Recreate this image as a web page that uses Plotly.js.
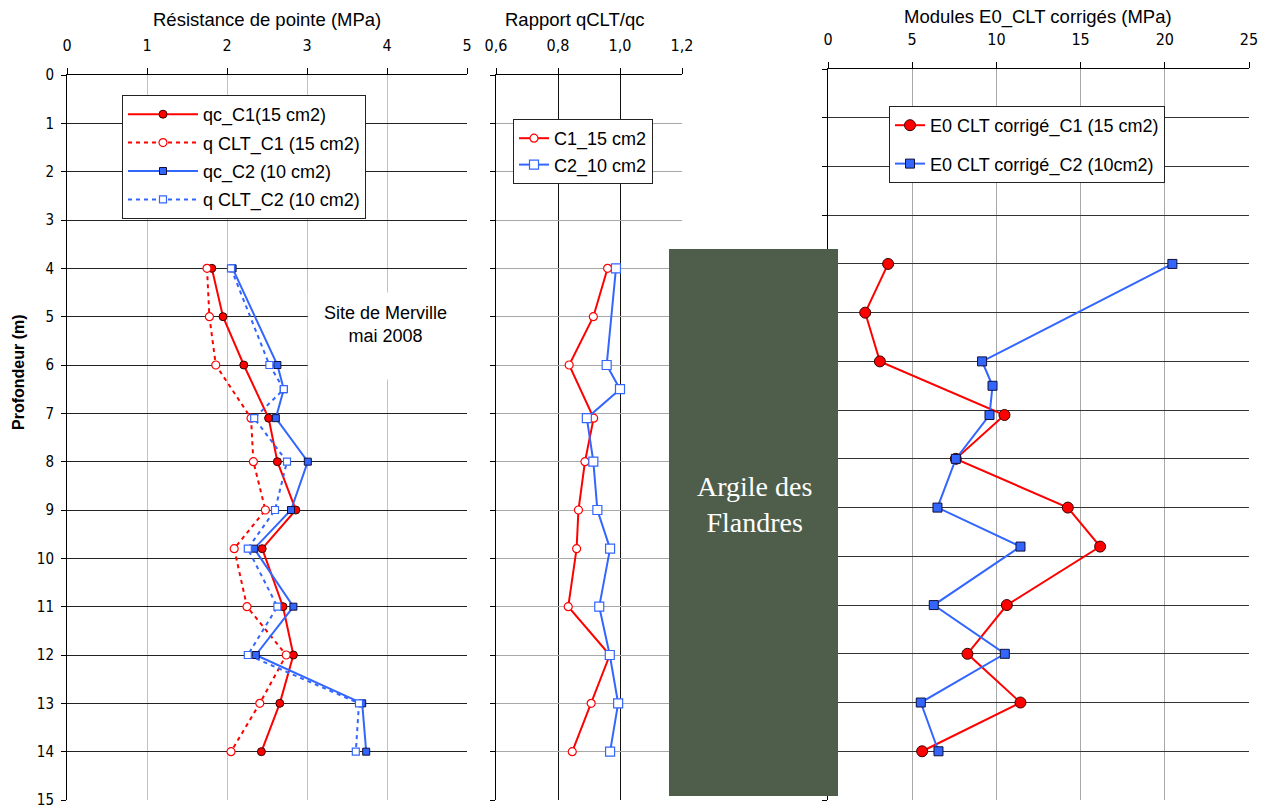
<!DOCTYPE html>
<html>
<head>
<meta charset="utf-8">
<script src="https://cdn.plot.ly/plotly-3.0.1.min.js"></script>
<style>
  html, body { margin: 0; padding: 0; background: #fff; }
  #chart { width: 1272px; height: 809px; }
</style>
</head>
<body>
<div id="chart"></div>
<script>
// ---------------- DATA ----------------
const depthC1 = [4, 5, 6, 7.1, 8, 9, 9.8, 11, 12, 13, 14];
const depthC2 = [4, 6, 6.5, 7.1, 8, 9, 9.8, 11, 12, 13, 14];

// Résistance de pointe (MPa)
const qcC1    = [1.81, 1.95, 2.21, 2.52, 2.63, 2.86, 2.44, 2.70, 2.83, 2.66, 2.43];
const qcltC1  = [1.75, 1.78, 1.86, 2.30, 2.33, 2.48, 2.09, 2.25, 2.74, 2.41, 2.05];
const qcC2    = [2.07, 2.63, 2.71, 2.61, 3.01, 2.80, 2.34, 2.83, 2.36, 3.69, 3.74];
const qcltC2  = [2.05, 2.53, 2.71, 2.34, 2.75, 2.60, 2.26, 2.63, 2.26, 3.65, 3.61];

// Rapport qCLT/qc
const ratioC1 = [0.960, 0.914, 0.836, 0.915, 0.887, 0.866, 0.860, 0.833, 0.967, 0.907, 0.846];
const ratioC2 = [0.987, 0.957, 1.000, 0.893, 0.914, 0.927, 0.968, 0.933, 0.967, 0.994, 0.968];

// Modules E0_CLT corrigés (MPa)
const e0C1 = [3.57, 2.21, 3.08, 10.48, 7.59, 14.24, 16.16, 10.62, 8.28, 11.43, 5.59];
const e0C2 = [20.45, 9.15, 9.77, 9.59, 7.59, 6.50, 11.43, 6.28, 10.50, 5.51, 6.56];

// Labels
const names1 = ["qc_C1(15 cm2)", "q CLT_C1 (15 cm2)", "qc_C2 (10 cm2)", "q CLT_C2 (10 cm2)"];
const names2 = ["C1_15 cm2", "C2_10 cm2"];
const names3 = ["E0 CLT corrigé_C1 (15 cm2)", "E0 CLT corrigé_C2 (10cm2)"];
const titles = ["Résistance de pointe (MPa)", "Rapport qCLT/qc", "Modules E0_CLT corrigés (MPa)"];
const yTitle = "Profondeur (m)";
const siteText = "Site de Merville<br>mai 2008";
const clayText = "Argile des<br>Flandres";

// ---------------- STYLE ----------------
const W = 1272, H = 809;
const px = v => v / W;
const py = v => 1 - v / H;
const RED = "#ff0000", BLUE = "#3366ff";
const FONT = "Liberation Sans, Arial, sans-serif";
const TICKFONT = { family: "Liberation Sans Narrow, DejaVu Sans Condensed, Liberation Sans, Arial, sans-serif", size: 16, color: "#000" };
const YTICKFONT = Object.assign({}, TICKFONT, { size: 15 });

const traces = [
  { x: qcC1, y: depthC1, name: names1[0], xaxis: "x", yaxis: "y", mode: "lines+markers",
    legend: "legend", legendgroup: "a1",
    line: { color: RED, width: 2 },
    marker: { symbol: "circle", size: 8, color: RED, line: { color: "#3a0000", width: 1 } } },
  { x: qcltC1, y: depthC1, name: names1[1], xaxis: "x", yaxis: "y", mode: "lines+markers",
    legend: "legend", legendgroup: "a2",
    line: { color: RED, width: 2, dash: "4px,4px" },
    marker: { symbol: "circle", size: 8, color: "#fff", line: { color: RED, width: 1.2 } } },
  { x: qcC2, y: depthC2, name: names1[2], xaxis: "x", yaxis: "y", mode: "lines+markers",
    legend: "legend", legendgroup: "a3",
    line: { color: BLUE, width: 2 },
    marker: { symbol: "square", size: 7, color: BLUE, line: { color: "#10103a", width: 1 } } },
  { x: qcltC2, y: depthC2, name: names1[3], xaxis: "x", yaxis: "y", mode: "lines+markers",
    legend: "legend", legendgroup: "a4",
    line: { color: BLUE, width: 2, dash: "4px,4px" },
    marker: { symbol: "square", size: 7, color: "#fff", line: { color: BLUE, width: 1.2 } } },

  { x: ratioC1, y: depthC1, name: names2[0], xaxis: "x2", yaxis: "y2", mode: "lines+markers",
    legend: "legend2", legendgroup: "b1",
    line: { color: RED, width: 2 },
    marker: { symbol: "circle", size: 8, color: "#fff", line: { color: RED, width: 1.2 } } },
  { x: ratioC2, y: depthC2, name: names2[1], xaxis: "x2", yaxis: "y2", mode: "lines+markers",
    legend: "legend2", legendgroup: "b2",
    line: { color: BLUE, width: 2 },
    marker: { symbol: "square", size: 9, color: "#fff", line: { color: BLUE, width: 1.2 } } },

  { x: e0C1, y: depthC1, name: names3[0], xaxis: "x3", yaxis: "y3", mode: "lines+markers",
    legend: "legend3", legendgroup: "c1",
    line: { color: RED, width: 2 },
    marker: { symbol: "circle", size: 11, color: RED, line: { color: "#3a0000", width: 1 } } },
  { x: e0C2, y: depthC2, name: names3[1], xaxis: "x3", yaxis: "y3", mode: "lines+markers",
    legend: "legend3", legendgroup: "c2",
    line: { color: BLUE, width: 2 },
    marker: { symbol: "square", size: 9, color: BLUE, line: { color: "#10103a", width: 1 } } }
];

function xAx(dom, range, dtick, grid, extra) {
  return Object.assign({
    domain: dom, range: range, dtick: dtick, side: "top", fixedrange: true,
    showline: true, linecolor: "#000", linewidth: 1, mirror: false,
    ticks: "outside", ticklen: 6, tickcolor: "#000", tickwidth: 1,
    showgrid: true, gridcolor: grid, gridwidth: 1, zeroline: false,
    tickfont: TICKFONT, ticklabelstandoff: 11
  }, extra || {});
}
function yAx(dom, grid, extra) {
  return Object.assign({
    domain: dom, range: [15, 0], dtick: 1, fixedrange: true,
    showline: true, linecolor: "#000", linewidth: 1,
    ticks: "outside", ticklen: 5, tickcolor: "#000", tickwidth: 1,
    showgrid: true, gridcolor: grid, gridwidth: 1, zeroline: false,
    tickfont: YTICKFONT, ticklabelstandoff: 4, ticklabeloverflow: "allow"
  }, extra || {});
}

const legendBase = {
  bgcolor: "#fff", bordercolor: "#222", borderwidth: 1,
  font: { family: FONT, size: 18, color: "#000" },
  xanchor: "left", yanchor: "top", traceorder: "grouped"
};

const layout = {
  width: W, height: H,
  margin: { l: 0, r: 0, t: 0, b: 0 },
  paper_bgcolor: "#fff", plot_bgcolor: "#fff",
  separators: ", ",
  font: { family: FONT, size: 16, color: "#000" },
  showlegend: true,
  xaxis:  xAx([px(67), px(467)], [0, 5], 1, "#c4c4c4", { anchor: "y" }),
  yaxis:  yAx([1 - 800 / H, 1 - 75 / H], "#222", { anchor: "x" }),
  xaxis2: xAx([px(496), px(682)], [0.6, 1.2], 0.2, "#111", { anchor: "y2", tickformat: ".1f" }),
  yaxis2: yAx([1 - 800 / H, 1 - 75 / H], "#a8a8a8", { anchor: "x2", showticklabels: false }),
  xaxis3: xAx([px(828), px(1249)], [0, 25], 5, "#a8a8a8", { anchor: "y3" }),
  yaxis3: yAx([1 - 800 / H, 1 - 69 / H], "#333", { anchor: "x3", showticklabels: false }),

  legend:  Object.assign({}, legendBase, { x: px(122), y: py(95), itemwidth: 70, tracegroupgap: 2 }),
  legend2: Object.assign({}, legendBase, { x: px(513), y: py(119), tracegroupgap: 0 }),
  legend3: Object.assign({}, legendBase, { x: px(889), y: py(106), tracegroupgap: 12 }),

  shapes: [
    { type: "rect", xref: "x", yref: "y", x0: 3.01, x1: 5.2, y0: 4.5, y1: 6.3,
      fillcolor: "#fff", line: { width: 0 }, layer: "between" },
    { type: "rect", xref: "paper", yref: "paper", x0: px(669), x1: px(838), y0: py(796), y1: py(249),
      fillcolor: "#4e5e4a", line: { width: 0 }, layer: "above" }
  ],
  annotations: [
    { xref: "paper", yref: "paper", x: px(267), y: py(20), text: titles[0], showarrow: false,
      xanchor: "center", yanchor: "middle", font: { family: FONT, size: 18.5, color: "#000" } },
    { xref: "paper", yref: "paper", x: px(575), y: py(20), text: titles[1], showarrow: false,
      xanchor: "center", yanchor: "middle", font: { family: FONT, size: 18.5, color: "#000" } },
    { xref: "paper", yref: "paper", x: px(1038), y: py(17), text: titles[2], showarrow: false,
      xanchor: "center", yanchor: "middle", font: { family: FONT, size: 18.5, color: "#000" } },
    { xref: "paper", yref: "paper", x: px(18), y: py(372), text: "<b>" + yTitle + "</b>", showarrow: false,
      textangle: -90, xanchor: "center", yanchor: "middle", font: { family: FONT, size: 16, color: "#000" } },
    { xref: "paper", yref: "paper", x: px(385), y: py(324), text: siteText, showarrow: false,
      xanchor: "center", yanchor: "middle", font: { family: FONT, size: 18, color: "#000" } },
    { xref: "paper", yref: "paper", x: px(754), y: py(504), text: clayText, showarrow: false,
      xanchor: "center", yanchor: "middle",
      font: { family: "Liberation Serif, Times New Roman, serif", size: 28, color: "#fff" } }
  ]
};

Plotly.newPlot("chart", traces, layout, { staticPlot: true, displayModeBar: false });
</script>
</body>
</html>
